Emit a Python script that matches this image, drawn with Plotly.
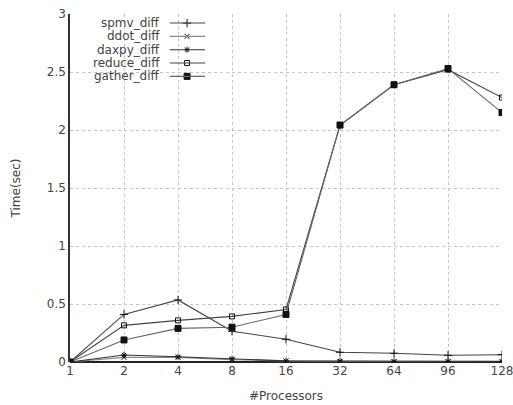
import plotly.graph_objects as go

procs = ["1", "2", "4", "8", "16", "32", "64", "96", "128"]
spmv_diff = [0.0, 0.41, 0.535, 0.265, 0.196, 0.084, 0.075, 0.058, 0.063]
ddot_diff = [0.0, 0.04, 0.04, 0.02, 0.008, 0.004, 0.003, 0.003, 0.003]
daxpy_diff = [0.0, 0.06, 0.045, 0.028, 0.01, 0.008, 0.005, 0.005, 0.005]
reduce_diff = [0.0, 0.316, 0.359, 0.393, 0.453, 2.04, 2.39, 2.52, 2.28]
gather_diff = [0.0, 0.19, 0.29, 0.30, 0.41, 2.043, 2.39, 2.53, 2.15]

series = [
    ("spmv_diff", spmv_diff, "#444444", "cross-thin", 6),
    ("ddot_diff", ddot_diff, "#888888", "x-thin", 5),
    ("daxpy_diff", daxpy_diff, "#333333", "asterisk", 5),
    ("reduce_diff", reduce_diff, "#444444", "square-open", 5),
    ("gather_diff", gather_diff, "#666666", "square", 6),
]

fig = go.Figure()
for name, vals, col, sym, sz in series:
    mcol = "#111111"
    fig.add_trace(go.Scatter(
        x=procs, y=vals, mode="lines+markers", name=name,
        line=dict(color=col, width=1.1),
        marker=dict(symbol=sym, size=sz, color=mcol,
                    line=dict(color=mcol, width=1)),
        showlegend=False,
    ))

# custom legend (text right aligned, sample to the right)
leg_y0 = 0.974
leg_dy = 0.0383
for i, (name, vals, col, sym, sz) in enumerate(series):
    yy = leg_y0 - i * leg_dy
    fig.add_annotation(xref="paper", yref="paper", x=0.214, y=yy, text=name,
                       showarrow=False, xanchor="right", yanchor="middle",
                       font=dict(size=12, color="#444444"))
    fig.add_shape(type="line", xref="paper", yref="paper",
                  x0=0.231, x1=0.3125, y0=yy, y1=yy,
                  line=dict(color=col, width=1.1))
    fig.add_trace(go.Scatter(x=[0.271], y=[yy], xaxis="x2", yaxis="y2",
                             mode="markers", showlegend=False, hoverinfo="skip",
                             marker=dict(symbol=sym, size=sz, color="#111111",
                                         line=dict(color="#111111", width=1))))

fig.update_layout(
    width=513, height=405,
    margin=dict(l=70, r=11, t=14, b=43),
    paper_bgcolor="white", plot_bgcolor="white",
    font=dict(family="DejaVu Sans", size=12, color="#444444"),
    xaxis=dict(type="category", range=[0, 8], showgrid=True, automargin=False,
               gridcolor="#c4c4c4", griddash="dot", gridwidth=1,
               showline=False, zeroline=False, ticks="",
               title=dict(text="#Processors", standoff=14,
                          font=dict(size=12, color="#444444")),
               tickfont=dict(size=12, color="#444444")),
    yaxis=dict(range=[0, 3], tickvals=[0, 0.5, 1, 1.5, 2, 2.5, 3],
               ticktext=["0", "0.5", "1", "1.5", "2", "2.5", "3"],
               automargin=False,
               showgrid=True, gridcolor="#c4c4c4", griddash="dot", gridwidth=1,
               showline=True, linecolor="#333333", linewidth=1.5,
               zeroline=True, zerolinecolor="#222222", zerolinewidth=1.5,
               ticks="", title=dict(text="Time(sec)", standoff=24,
                                    font=dict(size=12, color="#444444")),
               tickfont=dict(size=12, color="#444444")),
    xaxis2=dict(overlaying="x", range=[0, 1], visible=False, domain=[0, 1],
                anchor="y2"),
    yaxis2=dict(overlaying="y", range=[0, 1], visible=False, domain=[0, 1],
                anchor="x2"),
)

fig.write_html("out.html")
